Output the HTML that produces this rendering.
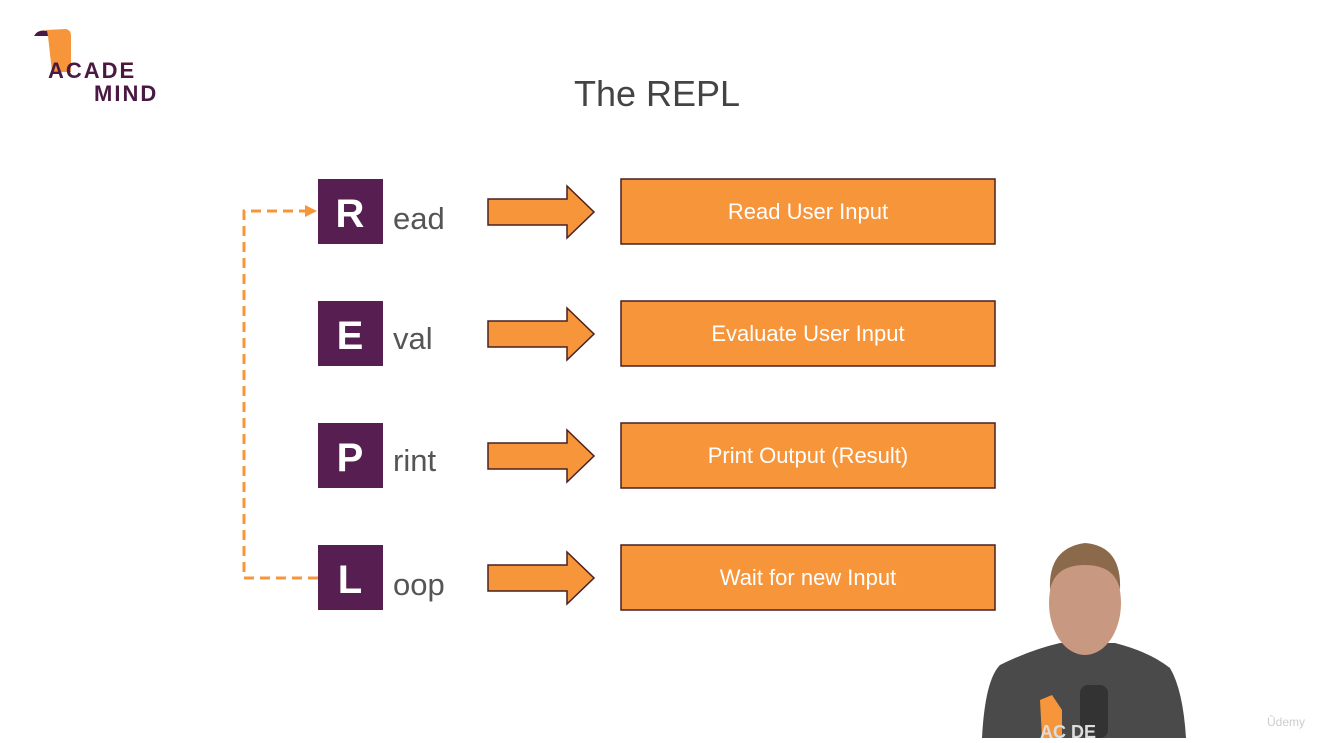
<!DOCTYPE html>
<html><head><style>
body{margin:0;background:#fff;width:1317px;height:738px;overflow:hidden;font-family:"Liberation Sans",sans-serif}
</style></head><body>
<svg width="1317" height="738" xmlns="http://www.w3.org/2000/svg" font-family="Liberation Sans, sans-serif">
<rect width="1317" height="738" fill="#fff"/>
<!-- logo -->
<path d="M46 30 L66 29 Q71 30 71 36 L71 72 L52 72 L48 36 Z" fill="#f7953b"/>
<path d="M34 36 Q38 29 47 31 L48 36 Z" fill="#4a1943"/>
<text x="48" y="78" font-size="22" font-weight="bold" fill="#4a1943" letter-spacing="2">ACADE</text>
<text x="94" y="101" font-size="22" font-weight="bold" fill="#4a1943" letter-spacing="2">MIND</text>
<text x="657" y="106" font-size="36" fill="#444" text-anchor="middle">The REPL</text>
<!-- dashed loop -->
<path d="M318 578 L244 578 L244 211 L305 211" fill="none" stroke="#f7953b" stroke-width="3" stroke-dasharray="10,6"/>
<path d="M305 205 L317 211 L305 217 Z" fill="#f7953b"/>
<g>
<g transform="translate(0,0)">
<rect x="318" y="179" width="65" height="65" fill="#561e51"/><text x="350" y="227" fill="#fff" text-anchor="middle" font-size="40" font-weight="bold">R</text><text x="393" y="229" fill="#555" font-size="31">ead</text>
<path d="M488 199 L567 199 L567 186 L594 212 L567 238 L567 225 L488 225 Z" fill="#f7953b" stroke="#4a2020" stroke-width="1.5"/>
<rect x="621" y="179" width="374" height="65" fill="#f7953b" stroke="#4a2020" stroke-width="1.5"/><text x="808" y="219" font-size="22" fill="#fff" text-anchor="middle">Read User Input</text>
</g>
<g transform="translate(0,122)">
<rect x="318" y="179" width="65" height="65" fill="#561e51"/><text x="350" y="227" fill="#fff" text-anchor="middle" font-size="40" font-weight="bold">E</text><text x="393" y="227" fill="#555" font-size="31">val</text>
<path d="M488 199 L567 199 L567 186 L594 212 L567 238 L567 225 L488 225 Z" fill="#f7953b" stroke="#4a2020" stroke-width="1.5"/>
<rect x="621" y="179" width="374" height="65" fill="#f7953b" stroke="#4a2020" stroke-width="1.5"/><text x="808" y="219" font-size="22" fill="#fff" text-anchor="middle">Evaluate User Input</text>
</g>
<g transform="translate(0,244)">
<rect x="318" y="179" width="65" height="65" fill="#561e51"/><text x="350" y="227" fill="#fff" text-anchor="middle" font-size="40" font-weight="bold">P</text><text x="393" y="227" fill="#555" font-size="31">rint</text>
<path d="M488 199 L567 199 L567 186 L594 212 L567 238 L567 225 L488 225 Z" fill="#f7953b" stroke="#4a2020" stroke-width="1.5"/>
<rect x="621" y="179" width="374" height="65" fill="#f7953b" stroke="#4a2020" stroke-width="1.5"/><text x="808" y="219" font-size="22" fill="#fff" text-anchor="middle">Print Output (Result)</text>
</g>
<g transform="translate(0,366)">
<rect x="318" y="179" width="65" height="65" fill="#561e51"/><text x="350" y="227" fill="#fff" text-anchor="middle" font-size="40" font-weight="bold">L</text><text x="393" y="229" fill="#555" font-size="31">oop</text>
<path d="M488 199 L567 199 L567 186 L594 212 L567 238 L567 225 L488 225 Z" fill="#f7953b" stroke="#4a2020" stroke-width="1.5"/>
<rect x="621" y="179" width="374" height="65" fill="#f7953b" stroke="#4a2020" stroke-width="1.5"/><text x="808" y="219" font-size="22" fill="#fff" text-anchor="middle">Wait for new Input</text>
</g>
</g>
<!-- presenter -->
<path d="M982 738 Q985 680 1000 665 Q1030 650 1060 643 L1115 643 Q1150 652 1170 668 Q1183 690 1186 738 Z" fill="#4a4a4a"/>
<ellipse cx="1085" cy="603" rx="36" ry="52" fill="#c99880"/>
<path d="M1050 590 Q1048 548 1085 543 Q1122 546 1120 590 Q1115 565 1085 565 Q1055 565 1050 590 Z" fill="#8a6a4a"/>
<path d="M1040 700 L1052 695 L1062 710 L1062 738 L1042 738 Z" fill="#f7953b"/>
<rect x="1080" y="685" width="28" height="53" rx="8" fill="#333"/>
<text x="1040" y="738" font-size="18" font-weight="bold" fill="#ddd">AC  DE</text>
<text x="1286" y="726" font-size="12" fill="#ccc" text-anchor="middle">Ûdemy</text>
</svg>
</body></html>
